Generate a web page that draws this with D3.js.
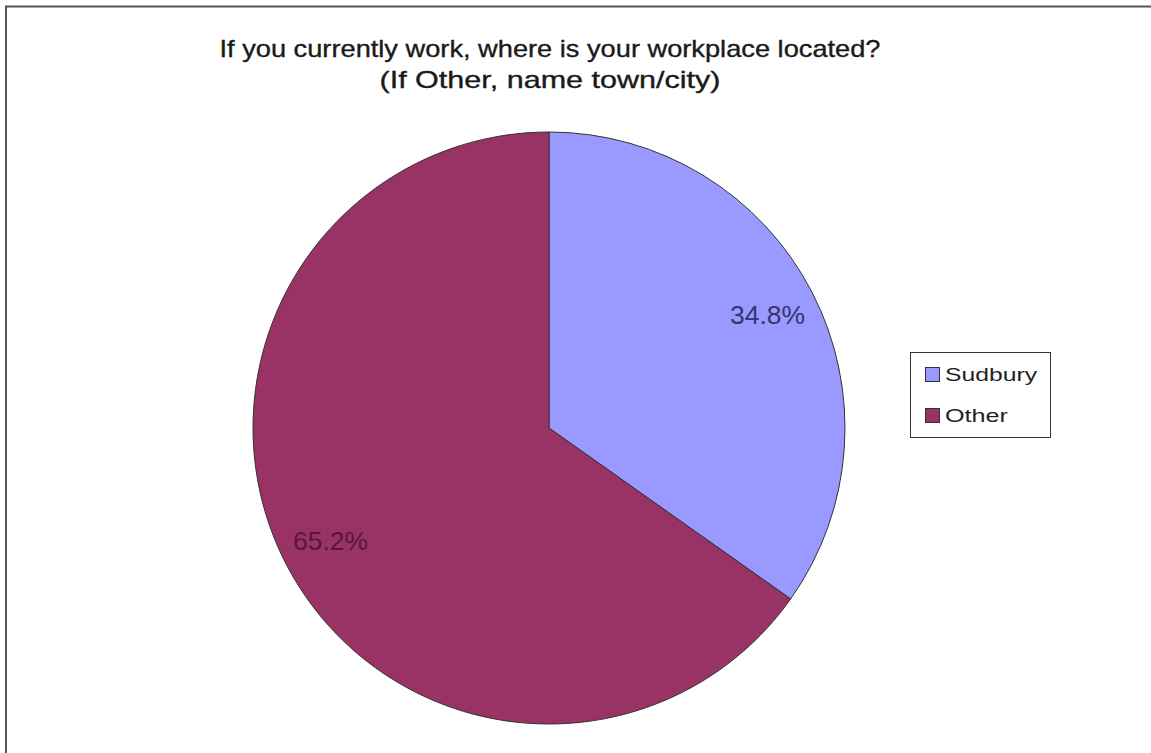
<!DOCTYPE html>
<html><head><meta charset="utf-8">
<script src="https://cdn.jsdelivr.net/npm/d3@7"></script>
<style>html,body{margin:0;padding:0;background:#fff;}svg{display:block;}</style>
</head><body>
<svg id="c" width="1151" height="753"></svg>
<script>
const categories = ["Sudbury", "Other"];
const values = [34.8, 65.2];
const colors = ["#9999FF", "#993366"];
const labelColors = ["#35356e", "#561838"];
const titleLines = ["If you currently work, where is your workplace located?", "(If Other, name town/city)"];

const svg = d3.select("#c");
const W = 1151, H = 753;
const FONT = "Liberation Sans, Arial, sans-serif";
// frame
svg.append("path").attr("d", `M6,${H+5} V6.5 H${W+5}`).attr("fill","none").attr("stroke","#555").attr("stroke-width",2);

const cx = 549, cy = 428, R = 296;
const g = svg.append("g").attr("transform", `translate(${cx},${cy})`);
const pie = d3.pie().sort(null).value(d => d)(values);
const arc = d3.arc().innerRadius(0).outerRadius(R);
const labelArc = d3.arc().innerRadius(246).outerRadius(246);
g.selectAll("path.s").data(pie).join("path").attr("class","s")
  .attr("d", arc).attr("fill", (d,i)=>colors[i]).attr("stroke","#333").attr("stroke-width",1);
g.selectAll("text.l").data(pie).join("text").attr("class","l")
  .attr("transform", d => `translate(${labelArc.centroid(d)})`)
  .attr("text-anchor","middle").attr("dy","0.35em")
  .attr("font-family",FONT).attr("font-size",25)
  .attr("textLength",75).attr("lengthAdjust","spacingAndGlyphs")
  .attr("fill",(d,i)=>labelColors[i])
  .text(d => d.data.toFixed(1) + "%");

// title
const titleW = [661, 341];
svg.selectAll("text.t").data(titleLines).join("text").attr("class","t")
  .attr("x", (d,i)=> 550 - titleW[i]/2).attr("y",(d,i)=> 57 + i*31)
  .attr("textLength",(d,i)=>titleW[i]).attr("lengthAdjust","spacingAndGlyphs")
  .attr("font-family",FONT).attr("font-size",24)
  .attr("fill","#1a1a1a").attr("stroke","#1a1a1a").attr("stroke-width",0.35)
  .text(d=>d);

// legend
const legW = [92, 63];
const lg = svg.append("g");
lg.append("rect").attr("x",910.5).attr("y",352.5).attr("width",140).attr("height",85).attr("fill","#fff").attr("stroke","#333").attr("stroke-width",1);
const items = lg.selectAll("g.i").data(categories).join("g").attr("class","i")
  .attr("transform",(d,i)=>`translate(925,${367 + i*41})`);
items.append("rect").attr("x",0.5).attr("y",0.5).attr("width",14).attr("height",14)
  .attr("fill",(d,i)=>colors[i]).attr("stroke","#333").attr("stroke-width",1);
items.append("text").attr("x",20).attr("y",13.5)
  .attr("textLength",(d,i)=>legW[i]).attr("lengthAdjust","spacingAndGlyphs")
  .attr("font-family",FONT).attr("font-size",18).attr("fill","#222")
  .text(d=>d);
</script>
</body></html>
